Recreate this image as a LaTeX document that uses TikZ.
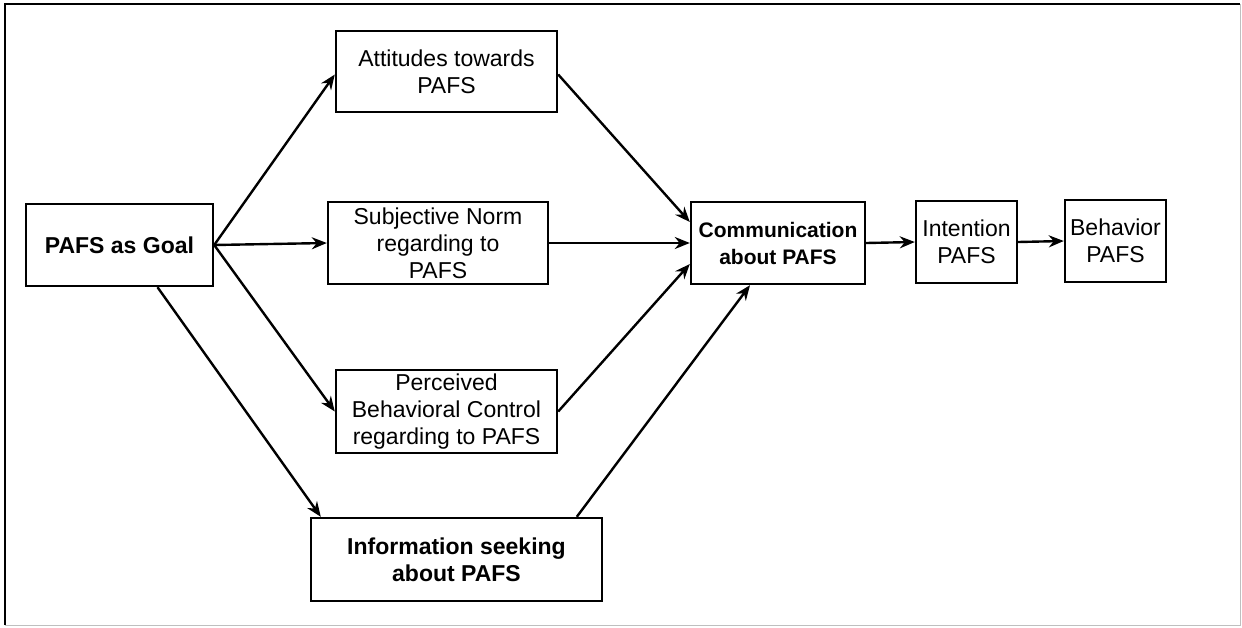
\documentclass[tikz,border=0pt]{standalone}
\usepackage{fontspec}
\setmainfont{Liberation Sans}
\usetikzlibrary{arrows.meta}
\begin{document}
\begin{tikzpicture}[x=1pt,y=-1pt,
  box/.style={draw,line width=2.4pt,inner sep=0pt,align=center,
    font=\fontsize{23}{27}\selectfont},
  boldbox/.style={box,font=\fontsize{23}{27}\selectfont\bfseries},
  arr/.style={line width=2.4pt,-{Stealth[length=15pt,width=12pt]}},
]
\useasboundingbox (0,0) rectangle (1242,627);
\draw[line width=2.4pt] (5,625) -- (5,4) -- (1240,4);
\draw[line width=1pt,black!25] (5,625) -- (1240,625) -- (1240,4);

\node[boldbox,minimum width=187pt,minimum height=82pt] (goal) at (119.5,245) {PAFS as Goal};
\node[box,minimum width=221pt,minimum height=81pt] (att) at (446.5,71.5) {Attitudes towards\\PAFS};
\node[box,minimum width=220pt,minimum height=82pt] (subj) at (438,243) {Subjective Norm\\regarding to\\PAFS};
\node[box,minimum width=221pt,minimum height=83pt] (perc) at (446.5,411.5) {Perceived\\Behavioral Control\\regarding to PAFS};
\node[boldbox,minimum width=291pt,minimum height=83pt] (info) at (456.5,559.5) {Information seeking\\about PAFS};
\node[boldbox,font=\fontsize{21}{27}\selectfont\bfseries,minimum width=174pt,minimum height=82pt] (comm) at (778,243) {Communication\\about PAFS};
\node[box,minimum width=101pt,minimum height=82pt] (int) at (966.5,242) {Intention\\PAFS};
\node[box,minimum width=101pt,minimum height=82pt] (beh) at (1115.5,241) {Behavior\\PAFS};

\draw[arr] (goal.east) -- ([yshift=-3pt]att.west);
\draw[arr] (goal.east) -- (subj.west);
\draw[arr] (goal.east) -- (perc.west);
\draw[arr] ([xshift=38pt]goal.south) -- ([xshift=11pt]info.north west);
\draw[arr] ([yshift=-3pt]att.east) -- ([yshift=21pt]comm.west);
\draw[arr] (subj.east) -- (comm.west);
\draw[arr] (perc.east) -- ([yshift=-21pt]comm.west);
\draw[arr] ([xshift=267pt]info.north west) -- ([xshift=-28pt]comm.south);
\draw[arr] (comm.east) -- (int.west);
\draw[arr] (int.east) -- (beh.west);
\end{tikzpicture}
\end{document}
